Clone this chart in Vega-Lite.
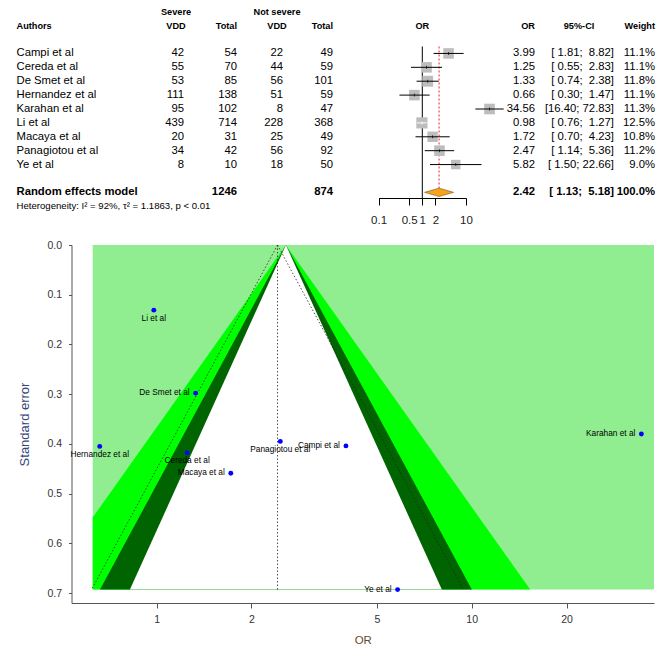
{
  "$schema": "https://vega.github.io/schema/vega-lite/v6.json",
  "padding": 0,
  "autosize": {"type": "pad"},
  "spacing": 27,
  "bounds": "flush",
  "config": {"view": {"stroke": null}, "font": "Liberation Sans"},
  "datasets": {
    "studies": [
      {"study": "Campi et al", "sevE": 42, "sevN": 54, "nsE": 22, "nsN": 49, "or": 3.99, "lower": 1.81, "upper": 8.82, "ci": "[\u00a01.81;\u00a0\u00a08.82]", "w": 0.111, "se": 0.404},
      {"study": "Cereda et al", "sevE": 55, "sevN": 70, "nsE": 44, "nsN": 59, "or": 1.25, "lower": 0.55, "upper": 2.83, "ci": "[\u00a00.55;\u00a0\u00a02.83]", "w": 0.111, "se": 0.418},
      {"study": "De Smet et al", "sevE": 53, "sevN": 85, "nsE": 56, "nsN": 101, "or": 1.33, "lower": 0.74, "upper": 2.38, "ci": "[\u00a00.74;\u00a0\u00a02.38]", "w": 0.118, "se": 0.298},
      {"study": "Hernandez et al", "sevE": 111, "sevN": 138, "nsE": 51, "nsN": 59, "or": 0.66, "lower": 0.30, "upper": 1.47, "ci": "[\u00a00.30;\u00a0\u00a01.47]", "w": 0.111, "se": 0.405},
      {"study": "Karahan et al", "sevE": 95, "sevN": 102, "nsE": 8, "nsN": 47, "or": 34.56, "lower": 16.40, "upper": 72.83, "ci": "[16.40;\u00a072.83]", "w": 0.113, "se": 0.380},
      {"study": "Li et al", "sevE": 439, "sevN": 714, "nsE": 228, "nsN": 368, "or": 0.98, "lower": 0.76, "upper": 1.27, "ci": "[\u00a00.76;\u00a0\u00a01.27]", "w": 0.125, "se": 0.131},
      {"study": "Macaya et al", "sevE": 20, "sevN": 31, "nsE": 25, "nsN": 49, "or": 1.72, "lower": 0.70, "upper": 4.23, "ci": "[\u00a00.70;\u00a0\u00a04.23]", "w": 0.108, "se": 0.459},
      {"study": "Panagiotou et al", "sevE": 34, "sevN": 42, "nsE": 56, "nsN": 92, "or": 2.47, "lower": 1.14, "upper": 5.36, "ci": "[\u00a01.14;\u00a0\u00a05.36]", "w": 0.112, "se": 0.395},
      {"study": "Ye et al", "sevE": 8, "sevN": 10, "nsE": 18, "nsN": 50, "or": 5.82, "lower": 1.50, "upper": 22.66, "ci": "[\u00a01.50;\u00a022.66]", "w": 0.090, "se": 0.693}
    ],
    "pooled": [
      {"study": "Random effects model", "sevN": 1246, "nsN": 874, "or": 2.42, "lower": 1.13, "upper": 5.18, "ci": "[\u00a01.13;\u00a0\u00a05.18]", "w": 1.0}
    ],
    "headers": [
      {"study": "hdr1", "col": 1, "label": "Severe"},
      {"study": "hdr1", "col": 4, "label": "Not severe"},
      {"study": "hdr2", "col": 0, "label": "Authors"},
      {"study": "hdr2", "col": 1, "label": "VDD"},
      {"study": "hdr2", "col": 3, "label": "Total"},
      {"study": "hdr2", "col": 4, "label": "VDD"},
      {"study": "hdr2", "col": 6, "label": "Total"},
      {"study": "hdr2", "col": 7, "label": "OR"},
      {"study": "hdr2", "col": 8, "label": "95%-CI"},
      {"study": "hdr2", "col": 10, "label": "Weight"}
    ],
    "het": [
      {"study": "het", "label": "Heterogeneity: I² = 92%, τ² = 1.1863, p < 0.01"}
    ],
    "bg": [
      {"lo": 0.627, "hi": 37.9, "se0": 0, "se1": 0.693}
    ],
    "contours": [
      {"level": "p01", "se": 0, "lo": 2.573, "hi": 2.573},
      {"level": "p01", "se": 0.548, "lo": 0.627, "hi": 10.56},
      {"level": "p01", "se": 0.693, "lo": 0.627, "hi": 15.34},
      {"level": "p05", "se": 0, "lo": 2.573, "hi": 2.573},
      {"level": "p05", "se": 0.693, "lo": 0.6615, "hi": 10.01},
      {"level": "p10", "se": 0, "lo": 2.573, "hi": 2.573},
      {"level": "p10", "se": 0.693, "lo": 0.823, "hi": 8.04}
    ],
    "pseudo": [
      {"side": "left", "or": 2.42, "se": 0},
      {"side": "left", "or": 0.622, "se": 0.693},
      {"side": "right", "or": 2.42, "se": 0},
      {"side": "right", "or": 9.41, "se": 0.693},
      {"side": "centre", "or": 2.42, "se": 0},
      {"side": "centre", "or": 2.42, "se": 0.693}
    ]
  },
  "vconcat": [
    {
      "width": 666,
      "height": 218,
      "encoding": {
        "y": {"field": "study", "type": "nominal", "axis": null,
          "scale": {"type": "band", "domain": ["hdr1", "hdr2", "gap1", "Campi et al", "Cereda et al", "De Smet et al", "Hernandez et al", "Karahan et al", "Li et al", "Macaya et al", "Panagiotou et al", "Ye et al", "gap2", "Random effects model", "het"], "paddingInner": 0, "paddingOuter": 0.3466}}
      },
      "layer": [
        {
          "layer": [
            {"data": {"name": "studies"}, "mark": {"type": "text", "align": "left", "baseline": "middle", "fontSize": 11.3},
             "encoding": {"x": {"datum": 0, "type": "quantitative", "axis": null, "scale": {"type": "linear", "domain": [0,1,2,3,4,5,6,7,8,9,10], "range": [16.5,176,184,237,277,283,333,535,579,614,655], "zero": false, "nice": false}}, "text": {"field": "study"}}},
            {"data": {"name": "studies"}, "mark": {"type": "text", "align": "right", "baseline": "middle", "fontSize": 11.3},
             "encoding": {"x": {"datum": 2, "type": "quantitative", "axis": null, "scale": {"type": "linear", "domain": [0,1,2,3,4,5,6,7,8,9,10], "range": [16.5,176,184,237,277,283,333,535,579,614,655], "zero": false, "nice": false}}, "text": {"field": "sevE"}}},
            {"data": {"name": "studies"}, "mark": {"type": "text", "align": "right", "baseline": "middle", "fontSize": 11.3},
             "encoding": {"x": {"datum": 3, "type": "quantitative", "axis": null, "scale": {"type": "linear", "domain": [0,1,2,3,4,5,6,7,8,9,10], "range": [16.5,176,184,237,277,283,333,535,579,614,655], "zero": false, "nice": false}}, "text": {"field": "sevN"}}},
            {"data": {"name": "studies"}, "mark": {"type": "text", "align": "right", "baseline": "middle", "fontSize": 11.3},
             "encoding": {"x": {"datum": 5, "type": "quantitative", "axis": null, "scale": {"type": "linear", "domain": [0,1,2,3,4,5,6,7,8,9,10], "range": [16.5,176,184,237,277,283,333,535,579,614,655], "zero": false, "nice": false}}, "text": {"field": "nsE"}}},
            {"data": {"name": "studies"}, "mark": {"type": "text", "align": "right", "baseline": "middle", "fontSize": 11.3},
             "encoding": {"x": {"datum": 6, "type": "quantitative", "axis": null, "scale": {"type": "linear", "domain": [0,1,2,3,4,5,6,7,8,9,10], "range": [16.5,176,184,237,277,283,333,535,579,614,655], "zero": false, "nice": false}}, "text": {"field": "nsN"}}},
            {"data": {"name": "studies"}, "mark": {"type": "text", "align": "right", "baseline": "middle", "fontSize": 11.3},
             "encoding": {"x": {"datum": 7, "type": "quantitative", "axis": null, "scale": {"type": "linear", "domain": [0,1,2,3,4,5,6,7,8,9,10], "range": [16.5,176,184,237,277,283,333,535,579,614,655], "zero": false, "nice": false}}, "text": {"field": "or", "type": "quantitative", "format": ".2f"}}},
            {"data": {"name": "studies"}, "mark": {"type": "text", "align": "right", "baseline": "middle", "fontSize": 11.3},
             "encoding": {"x": {"datum": 9, "type": "quantitative", "axis": null, "scale": {"type": "linear", "domain": [0,1,2,3,4,5,6,7,8,9,10], "range": [16.5,176,184,237,277,283,333,535,579,614,655], "zero": false, "nice": false}}, "text": {"field": "ci"}}},
            {"data": {"name": "studies"}, "mark": {"type": "text", "align": "right", "baseline": "middle", "fontSize": 11.3},
             "encoding": {"x": {"datum": 10, "type": "quantitative", "axis": null, "scale": {"type": "linear", "domain": [0,1,2,3,4,5,6,7,8,9,10], "range": [16.5,176,184,237,277,283,333,535,579,614,655], "zero": false, "nice": false}}, "text": {"field": "w", "type": "quantitative", "format": ".1%"}}},
            {"data": {"name": "pooled"}, "mark": {"type": "text", "align": "left", "baseline": "middle", "fontSize": 11.3, "fontWeight": "bold"},
             "encoding": {"x": {"datum": 0, "type": "quantitative", "axis": null, "scale": {"type": "linear", "domain": [0,1,2,3,4,5,6,7,8,9,10], "range": [16.5,176,184,237,277,283,333,535,579,614,655], "zero": false, "nice": false}}, "text": {"field": "study"}}},
            {"data": {"name": "pooled"}, "mark": {"type": "text", "align": "right", "baseline": "middle", "fontSize": 11.3, "fontWeight": "bold"},
             "encoding": {"x": {"datum": 3, "type": "quantitative", "axis": null, "scale": {"type": "linear", "domain": [0,1,2,3,4,5,6,7,8,9,10], "range": [16.5,176,184,237,277,283,333,535,579,614,655], "zero": false, "nice": false}}, "text": {"field": "sevN"}}},
            {"data": {"name": "pooled"}, "mark": {"type": "text", "align": "right", "baseline": "middle", "fontSize": 11.3, "fontWeight": "bold"},
             "encoding": {"x": {"datum": 6, "type": "quantitative", "axis": null, "scale": {"type": "linear", "domain": [0,1,2,3,4,5,6,7,8,9,10], "range": [16.5,176,184,237,277,283,333,535,579,614,655], "zero": false, "nice": false}}, "text": {"field": "nsN"}}},
            {"data": {"name": "pooled"}, "mark": {"type": "text", "align": "right", "baseline": "middle", "fontSize": 11.3, "fontWeight": "bold"},
             "encoding": {"x": {"datum": 7, "type": "quantitative", "axis": null, "scale": {"type": "linear", "domain": [0,1,2,3,4,5,6,7,8,9,10], "range": [16.5,176,184,237,277,283,333,535,579,614,655], "zero": false, "nice": false}}, "text": {"field": "or", "type": "quantitative", "format": ".2f"}}},
            {"data": {"name": "pooled"}, "mark": {"type": "text", "align": "right", "baseline": "middle", "fontSize": 11.3, "fontWeight": "bold"},
             "encoding": {"x": {"datum": 9, "type": "quantitative", "axis": null, "scale": {"type": "linear", "domain": [0,1,2,3,4,5,6,7,8,9,10], "range": [16.5,176,184,237,277,283,333,535,579,614,655], "zero": false, "nice": false}}, "text": {"field": "ci"}}},
            {"data": {"name": "pooled"}, "mark": {"type": "text", "align": "right", "baseline": "middle", "fontSize": 11.3, "fontWeight": "bold"},
             "encoding": {"x": {"datum": 10, "type": "quantitative", "axis": null, "scale": {"type": "linear", "domain": [0,1,2,3,4,5,6,7,8,9,10], "range": [16.5,176,184,237,277,283,333,535,579,614,655], "zero": false, "nice": false}}, "text": {"field": "w", "type": "quantitative", "format": ".1%"}}},
            {"data": {"name": "headers"}, "transform": [{"filter": "datum.col === 0"}], "mark": {"type": "text", "align": "left", "baseline": "middle", "fontSize": 9.2, "fontWeight": "bold"},
             "encoding": {"x": {"field": "col", "type": "quantitative", "axis": null, "scale": {"type": "linear", "domain": [0,1,2,3,4,5,6,7,8,9,10], "range": [16.5,176,184,237,277,283,333,535,579,614,655], "zero": false, "nice": false}}, "text": {"field": "label"}}},
            {"data": {"name": "headers"}, "transform": [{"filter": "datum.col === 1 || datum.col === 4 || datum.col === 8"}], "mark": {"type": "text", "align": "center", "baseline": "middle", "fontSize": 9.2, "fontWeight": "bold"},
             "encoding": {"x": {"field": "col", "type": "quantitative", "axis": null, "scale": {"type": "linear", "domain": [0,1,2,3,4,5,6,7,8,9,10], "range": [16.5,176,184,237,277,283,333,535,579,614,655], "zero": false, "nice": false}}, "text": {"field": "label"}}},
            {"data": {"name": "headers"}, "transform": [{"filter": "datum.col === 3 || datum.col === 6 || datum.col === 7 || datum.col === 10"}], "mark": {"type": "text", "align": "right", "baseline": "middle", "fontSize": 9.2, "fontWeight": "bold"},
             "encoding": {"x": {"field": "col", "type": "quantitative", "axis": null, "scale": {"type": "linear", "domain": [0,1,2,3,4,5,6,7,8,9,10], "range": [16.5,176,184,237,277,283,333,535,579,614,655], "zero": false, "nice": false}}, "text": {"field": "label"}}},
            {"data": {"name": "het"}, "mark": {"type": "text", "align": "left", "baseline": "middle", "fontSize": 9.6},
             "encoding": {"x": {"datum": 0, "type": "quantitative", "axis": null, "scale": {"type": "linear", "domain": [0,1,2,3,4,5,6,7,8,9,10], "range": [16.5,176,184,237,277,283,333,535,579,614,655], "zero": false, "nice": false}}, "text": {"field": "label"}}}
          ]
        },
        {
          "layer": [
            {"data": {"name": "pooled"}, "mark": {"type": "rule", "color": "black", "strokeWidth": 1},
             "encoding": {
               "x": {"datum": 1, "type": "quantitative", "scale": {"type": "log", "domain": [0.1, 10], "range": [378.6, 466], "nice": false},
                 "axis": {"orient": "bottom", "offset": -20, "values": [0.1, 0.5, 1, 2, 10], "format": "~g", "labelFlush": false, "labelOverlap": false, "title": null, "grid": false, "tickSize": 7, "domainColor": "black", "tickColor": "black", "labelColor": "#222222", "labelFontSize": 11.5, "labelFont": "Liberation Sans", "labelPadding": 9}},
               "y": {"datum": "Campi et al", "bandPosition": 0},
               "y2": {"datum": "Random effects model", "bandPosition": 1}}},
            {"data": {"name": "pooled"}, "mark": {"type": "rule", "color": "#ee2020", "strokeWidth": 1, "strokeDash": [2, 2]},
             "encoding": {
               "x": {"field": "or", "type": "quantitative", "scale": {"type": "log", "domain": [0.1, 10], "range": [378.6, 466], "nice": false},
                 "axis": {"orient": "bottom", "offset": -20, "values": [0.1, 0.5, 1, 2, 10], "format": "~g", "labelFlush": false, "labelOverlap": false, "title": null, "grid": false, "tickSize": 7, "domainColor": "black", "tickColor": "black", "labelColor": "#222222", "labelFontSize": 11.5, "labelFont": "Liberation Sans", "labelPadding": 9}},
               "y": {"datum": "Campi et al", "bandPosition": 0},
               "y2": {"field": "study", "bandPosition": 0.5}}},
            {"data": {"name": "studies"}, "mark": {"type": "square", "filled": true, "color": "#bdbdbd", "opacity": 1, "clip": false},
             "encoding": {
               "x": {"field": "or", "type": "quantitative", "scale": {"type": "log", "domain": [0.1, 10], "range": [378.6, 466], "nice": false},
                 "axis": {"orient": "bottom", "offset": -20, "values": [0.1, 0.5, 1, 2, 10], "format": "~g", "labelFlush": false, "labelOverlap": false, "title": null, "grid": false, "tickSize": 7, "domainColor": "black", "tickColor": "black", "labelColor": "#222222", "labelFontSize": 11.5, "labelFont": "Liberation Sans", "labelPadding": 9}},
               "size": {"field": "w", "type": "quantitative", "legend": null, "scale": {"domain": [0, 0.125], "range": [0, 125]}}}},
            {"data": {"name": "studies"}, "mark": {"type": "rule", "strokeWidth": 1, "clip": false},
             "encoding": {
               "x": {"field": "lower", "type": "quantitative", "scale": {"type": "log", "domain": [0.1, 10], "range": [378.6, 466], "nice": false},
                 "axis": {"orient": "bottom", "offset": -20, "values": [0.1, 0.5, 1, 2, 10], "format": "~g", "labelFlush": false, "labelOverlap": false, "title": null, "grid": false, "tickSize": 7, "domainColor": "black", "tickColor": "black", "labelColor": "#222222", "labelFontSize": 11.5, "labelFont": "Liberation Sans", "labelPadding": 9}},
               "x2": {"field": "upper"},
               "color": {"condition": {"test": "datum.study === 'Li et al'", "value": "white"}, "value": "black"}}},
            {"data": {"name": "studies"}, "mark": {"type": "tick", "orient": "vertical", "size": 3, "thickness": 1, "clip": false},
             "encoding": {
               "x": {"field": "or", "type": "quantitative", "scale": {"type": "log", "domain": [0.1, 10], "range": [378.6, 466], "nice": false},
                 "axis": {"orient": "bottom", "offset": -20, "values": [0.1, 0.5, 1, 2, 10], "format": "~g", "labelFlush": false, "labelOverlap": false, "title": null, "grid": false, "tickSize": 7, "domainColor": "black", "tickColor": "black", "labelColor": "#222222", "labelFontSize": 11.5, "labelFont": "Liberation Sans", "labelPadding": 9}},
               "color": {"condition": {"test": "datum.study === 'Li et al'", "value": "white"}, "value": "black"}}},
            {"data": {"name": "pooled"}, "mark": {"type": "point", "shape": "M-1,0L0,-0.29L1,0L0,0.29Z", "filled": true, "size": 841, "color": "#f7a21b", "stroke": "#7a5010", "strokeWidth": 0.6, "opacity": 1},
             "encoding": {
               "x": {"field": "or", "type": "quantitative", "scale": {"type": "log", "domain": [0.1, 10], "range": [378.6, 466], "nice": false},
                 "axis": {"orient": "bottom", "offset": -20, "values": [0.1, 0.5, 1, 2, 10], "format": "~g", "labelFlush": false, "labelOverlap": false, "title": null, "grid": false, "tickSize": 7, "domainColor": "black", "tickColor": "black", "labelColor": "#222222", "labelFontSize": 11.5, "labelFont": "Liberation Sans", "labelPadding": 9}}}},
            {"data": {"name": "pooled"}, "mark": {"type": "text", "text": "OR", "align": "center", "baseline": "middle", "fontSize": 9.2, "fontWeight": "bold"},
             "encoding": {
               "x": {"datum": 1, "type": "quantitative", "scale": {"type": "log", "domain": [0.1, 10], "range": [378.6, 466], "nice": false},
                 "axis": {"orient": "bottom", "offset": -20, "values": [0.1, 0.5, 1, 2, 10], "format": "~g", "labelFlush": false, "labelOverlap": false, "title": null, "grid": false, "tickSize": 7, "domainColor": "black", "tickColor": "black", "labelColor": "#222222", "labelFontSize": 11.5, "labelFont": "Liberation Sans", "labelPadding": 9}},
               "y": {"datum": "hdr2"}}}
          ]
        }
      ],
      "resolve": {"scale": {"x": "independent"}, "axis": {"x": "independent"}}
    },
    {
      "width": 666,
      "height": 358,
      "encoding": {
        "x": {"type": "quantitative", "scale": {"type": "log", "domain": [0.537, 37.9], "range": [71.5, 654], "nice": false},
          "axis": {"values": [1, 2, 5, 10, 20], "format": "~g", "labelFlush": false, "labelOverlap": false, "grid": false, "title": "OR", "tickSize": 5, "domainColor": "#555555", "tickColor": "#555555", "labelColor": "#333333", "labelFont": "Liberation Sans", "labelFontSize": 10.5, "labelPadding": 6, "titleFont": "Liberation Sans", "titleFontSize": 11.5, "titleFontWeight": "normal", "titleColor": "#6b4a2f", "titlePadding": 10}},
        "y": {"type": "quantitative", "scale": {"domain": [0, 0.72], "reverse": true, "nice": false, "zero": false},
          "axis": {"offset": -71.5, "values": [0, 0.1, 0.2, 0.3, 0.4, 0.5, 0.6, 0.7], "format": ".1f", "grid": false, "title": "Standard error", "tickSize": 3, "domainColor": "#555555", "tickColor": "#555555", "labelColor": "#333333", "labelFont": "Liberation Sans", "labelFontSize": 10.5, "labelPadding": 7, "titleFont": "Liberation Sans", "titleFontSize": 13, "titleFontWeight": "normal", "titleColor": "#34467a", "titlePadding": 15}}
      },
      "layer": [
        {"data": {"name": "bg"}, "mark": {"type": "rect", "color": "#90ee90"},
         "encoding": {
           "x": {"field": "lo"},
           "x2": {"field": "hi"},
           "y": {"field": "se0"},
           "y2": {"field": "se1"}}},
        {"data": {"name": "contours"}, "transform": [{"filter": "datum.level === 'p01'"}], "mark": {"type": "area", "orient": "horizontal", "color": "#00ff00", "opacity": 1},
         "encoding": {"x": {"field": "lo"}, "x2": {"field": "hi"}, "y": {"field": "se"}}},
        {"data": {"name": "contours"}, "transform": [{"filter": "datum.level === 'p05'"}], "mark": {"type": "area", "orient": "horizontal", "color": "#006400", "opacity": 1},
         "encoding": {"x": {"field": "lo"}, "x2": {"field": "hi"}, "y": {"field": "se"}}},
        {"data": {"name": "contours"}, "transform": [{"filter": "datum.level === 'p10'"}], "mark": {"type": "area", "orient": "horizontal", "color": "white", "opacity": 1},
         "encoding": {"x": {"field": "lo"}, "x2": {"field": "hi"}, "y": {"field": "se"}}},
        {"data": {"name": "pseudo"}, "mark": {"type": "line", "color": "#222222", "strokeWidth": 0.8, "strokeDash": [1.5, 2]},
         "encoding": {"x": {"field": "or"}, "y": {"field": "se"}, "detail": {"field": "side"}, "order": {"field": "se"}}},
        {"data": {"name": "studies"}, "mark": {"type": "circle", "color": "#0000ff", "size": 24, "opacity": 1},
         "encoding": {"x": {"field": "or"}, "y": {"field": "se"}}},
        {"data": {"name": "studies"}, "transform": [{"filter": {"field": "study", "oneOf": ["Li et al", "Hernandez et al", "Cereda et al", "Panagiotou et al"]}}],
         "mark": {"type": "text", "align": "center", "baseline": "middle", "dy": 8.5, "fontSize": 8.3, "font": "Liberation Sans", "color": "black"},
         "encoding": {"x": {"field": "or"}, "y": {"field": "se"}, "text": {"field": "study"}}},
        {"data": {"name": "studies"}, "transform": [{"filter": {"not": {"field": "study", "oneOf": ["Li et al", "Hernandez et al", "Cereda et al", "Panagiotou et al"]}}}],
         "mark": {"type": "text", "align": "right", "baseline": "middle", "dx": -6, "fontSize": 8.3, "font": "Liberation Sans", "color": "black"},
         "encoding": {"x": {"field": "or"}, "y": {"field": "se"}, "text": {"field": "study"}}}
      ]
    }
  ]
}
